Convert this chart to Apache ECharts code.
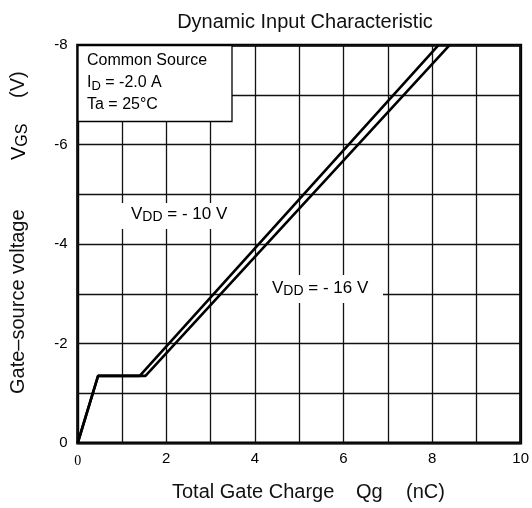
<!DOCTYPE html>
<html>
<head>
<meta charset="utf-8">
<script src="https://cdn.jsdelivr.net/npm/echarts@6/dist/echarts.min.js"></script>
<style>
html,body{margin:0;padding:0;background:#fff;}
#c{width:532px;height:508px;}
</style>
</head>
<body>
<div id="c"></div>
<script>
// Data (Qg in nC, VGS in V)
var vdd10 = [[0, 0], [0.46, -1.35], [1.40, -1.35], [8.14, -8]];
var vdd16 = [[0, 0], [0.46, -1.35], [1.53, -1.35], [8.39, -8]];
var xTicks = [0, 2, 4, 6, 8, 10];
var yTicks = [-8, -6, -4, -2, 0];

var FONT = 'Liberation Sans, Arial, sans-serif';
var chart = echarts.init(document.getElementById('c'), null, {renderer: 'canvas'});

var sub = {fontSize: 13, fontFamily: FONT, color: '#000', padding: [6, 0, 0, 0]};
var main = {fontSize: 16, fontFamily: FONT, color: '#000'};
var sub2 = {fontSize: 14, fontFamily: FONT, color: '#000', padding: [6, 0, 0, 0]};
var main2 = {fontSize: 17, fontFamily: FONT, color: '#000'};
var bigM = {fontSize: 20, fontFamily: FONT, color: '#111'};
var bigS = {fontSize: 16, fontFamily: FONT, color: '#111', padding: [7, 0, 0, 0]};

chart.setOption({
  animation: false,
  backgroundColor: '#fff',
  title: {
    text: 'Dynamic Input Characteristic',
    left: 300, top: 7, textAlign: 'center',
    textStyle: {fontFamily: FONT, fontSize: 20, fontWeight: 'normal', color: '#111'}
  },
  grid: {
    left: 77.7, right: 8.5, top: 45.3, bottom: 65,
    show: true, borderColor: '#000', borderWidth: 3, backgroundColor: 'transparent'
  },
  xAxis: {
    type: 'value', min: 0, max: 10, interval: 1,
    axisLine: {show: false},
    axisTick: {show: false},
    splitLine: {show: true, lineStyle: {color: '#111', width: 1.3}},
    axisLabel: {
      margin: 8, fontSize: 15, fontFamily: FONT, color: '#000',
      formatter: function (v) {
        if (xTicks.indexOf(v) < 0) return '';
        return v === 0 ? '{s|0}' : String(v);
      },
      rich: {s: {fontFamily: 'Liberation Serif, serif', fontSize: 14, color: '#000', padding: [3, 0, 0, 0]}}
    }
  },
  yAxis: {
    type: 'value', min: -8, max: 0, interval: 1, inverse: true,
    axisLine: {show: false},
    axisTick: {show: false},
    splitLine: {show: true, lineStyle: {color: '#111', width: 1.3}},
    axisLabel: {
      margin: 10, fontSize: 15, fontFamily: FONT, color: '#000',
      formatter: function (v) { return yTicks.indexOf(v) < 0 ? '' : String(v); }
    }
  },
  series: [
    {name: 'VDD = -10 V', type: 'line', data: vdd10, symbol: 'none', z: 10,
     lineStyle: {color: '#000', width: 2.6}},
    {name: 'VDD = -16 V', type: 'line', data: vdd16, symbol: 'none', z: 10,
     lineStyle: {color: '#000', width: 2.6}}
  ],
  graphic: [
    // condition box
    {type: 'rect', z: 50, shape: {x: 78, y: 45.5, width: 154, height: 76},
     style: {fill: '#fff', stroke: '#000', lineWidth: 1.3}},
    {type: 'text', z: 51, left: 87, top: 53,
     style: {text: 'Common Source', font: '16px ' + FONT, fill: '#000'}},
    {type: 'text', z: 51, left: 87, top: 75,
     style: {text: '{m|I}{s|D}{m| = -2.0 A}', rich: {m: main, s: sub}}},
    {type: 'text', z: 51, left: 87, top: 97,
     style: {text: 'Ta = 25°C', font: '16px ' + FONT, fill: '#000'}},
    // VDD = -10 V label
    {type: 'rect', z: 5, shape: {x: 112, y: 203, width: 134, height: 26}, style: {fill: '#fff'}},
    {type: 'text', z: 6, left: 131, top: 206,
     style: {text: '{m|V}{s|DD}{m| = - 10 V}', rich: {m: main2, s: sub2}}},
    // VDD = -16 V label
    {type: 'rect', z: 5, shape: {x: 258, y: 275, width: 125, height: 28}, style: {fill: '#fff'}},
    {type: 'text', z: 6, left: 272, top: 280,
     style: {text: '{m|V}{s|DD}{m| = - 16 V}', rich: {m: main2, s: sub2}}},
    // x-axis name
    {type: 'text', z: 6, left: 172, top: 482,
     style: {text: 'Total Gate Charge', font: '20px ' + FONT, fill: '#111'}},
    {type: 'text', z: 6, left: 356, top: 482,
     style: {text: 'Qg', font: '20px ' + FONT, fill: '#111'}},
    {type: 'text', z: 6, left: 406, top: 482,
     style: {text: '(nC)', font: '20px ' + FONT, fill: '#111'}},
    // y-axis name (rotated pieces)
    {type: 'text', z: 6, x: 8, y: 394, rotation: Math.PI / 2,
     style: {text: 'Gate–source voltage', font: '20px ' + FONT, fill: '#111'}},
    {type: 'text', z: 6, x: 8, y: 160, rotation: Math.PI / 2,
     style: {text: '{m|V}{s|GS}', rich: {m: bigM, s: bigS}}},
    {type: 'text', z: 6, x: 8, y: 98, rotation: Math.PI / 2,
     style: {text: '(V)', font: '20px ' + FONT, fill: '#111'}}
  ]
});
</script>
</body>
</html>
